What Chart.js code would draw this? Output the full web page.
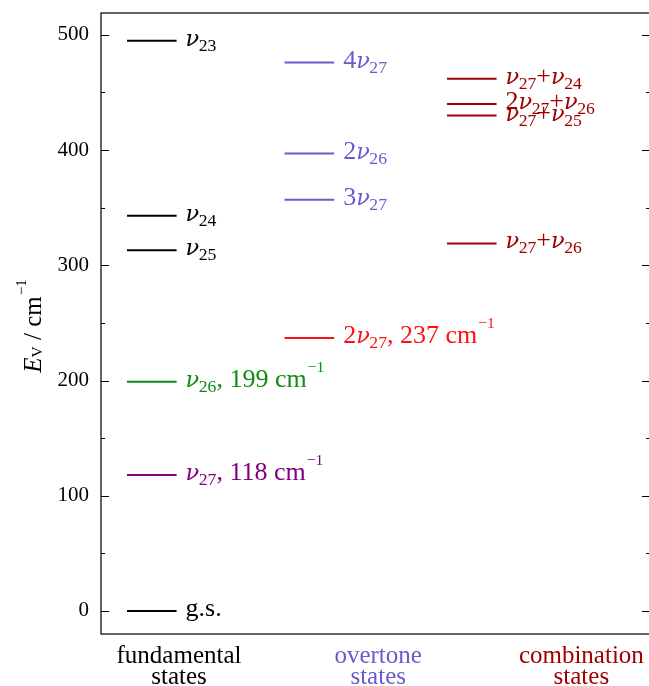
<!DOCTYPE html>
<html>
<head>
<meta charset="utf-8">
<script src="https://cdn.jsdelivr.net/npm/chart.js@4.4.1/dist/chart.umd.min.js"></script>
<style>
  html, body { margin: 0; padding: 0; background: #fff; overflow: hidden; }
  #wrap { width: 652px; height: 686px; }
</style>
</head>
<body>
<div id="wrap"><canvas id="niveles"></canvas></div>
<script>
// energias vibracionales (cm^-1) por columna
const fundLevels = [0, 118, 199, 313, 343, 495];
const fundLabels = ['g.s.', 'ν_{27}, 118 cm^{−1}', 'ν_{26}, 199 cm^{−1}', 'ν_{25}', 'ν_{24}', 'ν_{23}'];
const fundColors = ['#000000', '#800080', '#118c11', '#000000', '#000000', '#000000'];

const overLevels = [237, 357, 397, 476];
const overLabels = ['2ν_{27}, 237 cm^{−1}', '3ν_{27}', '2ν_{26}', '4ν_{27}'];
const overColors = ['#ff1010', '#6a5acd', '#6a5acd', '#6a5acd'];

const combLevels = [319, 430, 440, 462];
const combLabels = ['ν_{27}+ν_{26}', 'ν_{27}+ν_{25}', '2ν_{27}+ν_{26}', 'ν_{27}+ν_{24}'];
const combColors = ['#a00000', '#a00000', '#a00000', '#a00000'];

const categories = [['fundamental', 'states'], ['overtone', 'states'], ['combination', 'states']];
const categoryColors = ['#000000', '#6a5acd', '#a00000'];
const categoryPos = [0.325, 1.57, 2.84];

const yTicks = [0, 100, 200, 300, 400, 500];
const yMinor = [50, 150, 250, 350, 450];

// donde empieza cada columna y largo de cada nivel (unidades del eje x)
const columnStart = [0, 0.985, 2.0];
const levelLen = 0.31;

const SERIF = '"Liberation Serif", "Times New Roman", serif';
const GREEK = '"DejaVu Serif", serif';
const LABEL_SIZE = 26;

const columns = [
  { levels: fundLevels, labels: fundLabels, colors: fundColors },
  { levels: overLevels, labels: overLabels, colors: overColors },
  { levels: combLevels, labels: combLabels, colors: combColors },
];

const datasets = [];
columns.forEach((col, c) => {
  col.levels.forEach((e, k) => {
    datasets.push({
      data: [{ x: columnStart[c], y: e }, { x: columnStart[c] + levelLen, y: e }],
      borderColor: col.colors[k],
      borderWidth: 2,
      pointRadius: 0,
      tension: 0,
      label: col.labels[k],
    });
  });
});

// texto con subindices _{..} y superindices ^{..}; ν y E van en cursiva
function parseRich(s) {
  const runs = [];
  const pushBase = (txt) => {
    for (const ch of txt) {
      const it = 'νE'.includes(ch);
      const last = runs[runs.length - 1];
      if (last && last.mode === 'base' && last.italic === it && ch !== 'ν' && !last.text.includes('ν')) last.text += ch;
      else runs.push({ text: ch, mode: 'base', italic: it });
    }
  };
  let i = 0, buf = '';
  while (i < s.length) {
    const ch = s[i];
    if ((ch === '_' || ch === '^') && s[i + 1] === '{') {
      pushBase(buf); buf = '';
      const end = s.indexOf('}', i);
      runs.push({ text: s.slice(i + 2, end), mode: ch === '_' ? 'sub' : 'sup', italic: false });
      i = end + 1;
    } else {
      buf += ch; i++;
    }
  }
  pushBase(buf);
  return runs;
}

function fontFor(r, size, o) {
  const fs = r.mode === 'base' ? size : size * (r.mode === 'sub' ? o.subScale : o.supScale);
  if (r.text === 'ν') return 'italic ' + (fs * 0.86).toFixed(1) + 'px ' + GREEK;
  return (r.italic ? 'italic ' : '') + fs.toFixed(1) + 'px ' + SERIF;
}

const richDefaults = { subDy: 5, supDy: -15, subScale: 0.68, supScale: 0.6 };

function layoutRich(ctx, str, size, opt) {
  const o = Object.assign({}, richDefaults, opt || {});
  let cx = 0;
  const pieces = parseRich(str).map(r => {
    const font = fontFor(r, size, o);
    ctx.font = font;
    const w = ctx.measureText(r.text).width;
    const dy = r.mode === 'sub' ? o.subDy : r.mode === 'sup' ? o.supDy : 0;
    const gap = r.mode === 'sup' ? 1 : 0;
    const p = { text: r.text, font, x: cx + gap, dy };
    cx += w + gap + (r.text === 'ν' ? -0.5 : 0);
    return p;
  });
  return { pieces, width: cx };
}

function drawRich(ctx, str, x, y, size, color, opt) {
  const { pieces, width } = layoutRich(ctx, str, size, opt);
  ctx.fillStyle = color;
  ctx.textBaseline = 'alphabetic';
  ctx.textAlign = 'left';
  pieces.forEach(p => { ctx.font = p.font; ctx.fillText(p.text, x + p.x, y + p.dy); });
  return width;
}

const levelDecor = {
  id: 'levelDecor',
  afterDraw(chart) {
    const { ctx, chartArea: a, scales: { x, y } } = chart;
    ctx.save();
    // marco
    ctx.strokeStyle = '#000';
    ctx.lineWidth = 1.2;
    ctx.strokeRect(a.left, a.top, a.right - a.left, a.bottom - a.top);
    // marcas hacia adentro en ambos lados
    ctx.beginPath();
    yTicks.forEach(v => {
      const py = Math.round(y.getPixelForValue(v)) + 0.5;
      ctx.moveTo(a.left, py); ctx.lineTo(a.left + 8, py);
      ctx.moveTo(a.right, py); ctx.lineTo(a.right - 8, py);
    });
    yMinor.forEach(v => {
      const py = Math.round(y.getPixelForValue(v)) + 0.5;
      ctx.moveTo(a.left, py); ctx.lineTo(a.left + 4, py);
      ctx.moveTo(a.right, py); ctx.lineTo(a.right - 4, py);
    });
    ctx.stroke();

    // etiquetas de cada nivel
    columns.forEach((col, c) => {
      col.levels.forEach((e, k) => {
        const px = x.getPixelForValue(columnStart[c] + levelLen) + 9;
        const py = y.getPixelForValue(e) + 5;
        drawRich(ctx, col.labels[k], px, py, LABEL_SIZE, col.colors[k]);
      });
    });

    // titulo del eje y, rotado
    const title = 'E_{V} / cm^{−1}';
    const tOpt = { subDy: 1, subScale: 0.62, supDy: -15 };
    const w = layoutRich(ctx, title, 25, tOpt).width;
    ctx.translate(41, 326);
    ctx.rotate(-Math.PI / 2);
    drawRich(ctx, title, -w / 2, 0, 25, '#000', tOpt);
    ctx.restore();
  }
};

new Chart(document.getElementById('niveles'), {
  type: 'line',
  data: { datasets },
  options: {
    responsive: true,
    maintainAspectRatio: false,
    animation: false,
    layout: { padding: { top: 13, right: 2, left: 0, bottom: 0 } },
    plugins: { legend: { display: false }, tooltip: { enabled: false } },
    scales: {
      x: {
        type: 'linear',
        min: -0.1625,
        max: 3.269,
        grid: { display: false, drawTicks: false },
        border: { display: false },
        afterBuildTicks: (s) => { s.ticks = categoryPos.map(v => ({ value: v })); },
        afterFit: (s) => { s.height = 52; s.paddingLeft = 0; s.paddingRight = 0; },
        ticks: {
          padding: 12,
          maxRotation: 0,
          autoSkip: false,
          color: (ctx) => categoryColors[ctx.index],
          font: { family: SERIF, size: 25, lineHeight: 0.84 },
          callback: (v, i) => categories[i],
        },
      },
      y: {
        type: 'linear',
        min: -20,
        max: 519,
        grid: { display: false, drawTicks: false },
        border: { display: false },
        afterBuildTicks: (s) => { s.ticks = yTicks.map(v => ({ value: v })); },
        afterFit: (s) => { s.width = 101; s.paddingTop = 0; s.paddingBottom = 0; },
        ticks: {
          padding: 12,
          color: '#000',
          font: { family: SERIF, size: 21 },
        },
      },
    },
  },
  plugins: [levelDecor],
});
</script>
</body>
</html>
